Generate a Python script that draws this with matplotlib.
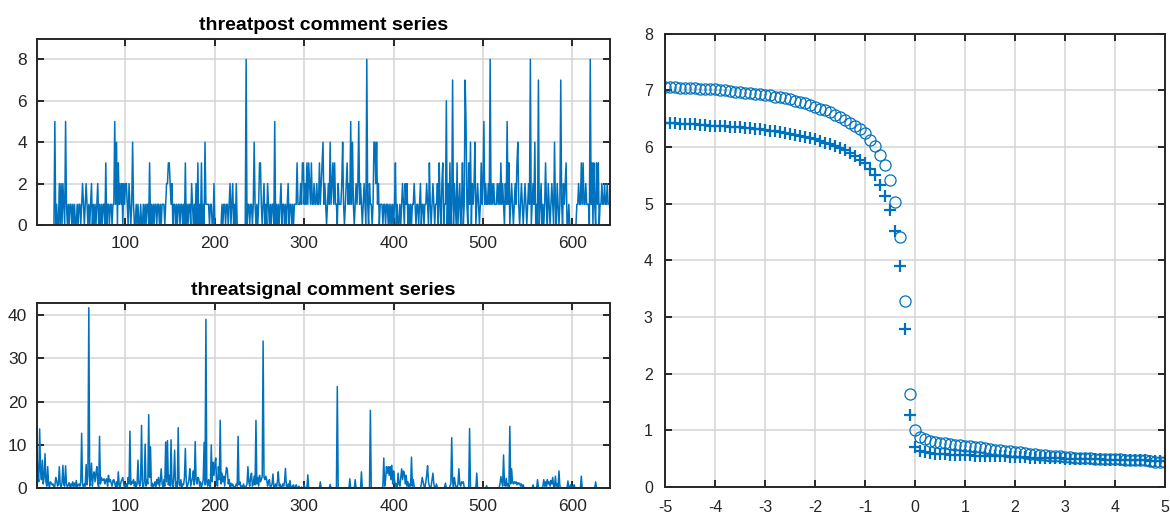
import numpy as np
import matplotlib
matplotlib.use("Agg")
import matplotlib.pyplot as plt

plt.rcParams['font.family'] = ['Liberation Sans', 'DejaVu Sans']
plt.rcParams['axes.unicode_minus'] = False

# threatpost comment counts, one digit per post (640 posts)
threatpost_digits = (
    "0000000000000000000050100202021051010110"
    "1010010110121012101012010101201010110301"
    "1011011514031212021221021014100101001001"
    "0101103010101101101011101223321201101011"
    "0110103010110210102030103010411110110020"
    "0000000101101101201201020000000000801101"
    "1014101013310120102101011050101012011010"
    "1201101011131112133121313213112112113123"
    "4121012141231311021112410123121514101212"
    "5121012108102110144241201110110110101010"
    "1301001012102120101011210110120110112103"
    "1012101120310230116020301702103012013017"
    "5103140212401210131251211218121211121213"
    "1210215130121012134101210121012180121401"
    "0701201013102101210410210171021230010000"
    "0000112113131121110813031031301121121121"
)
threatpost = [int(c) for c in threatpost_digits]

# threatsignal comment series (640 values)
threatsignal = [
    8.3, 3.0, 1.5, 13.7, 4.0, 2.0, 6.5, 1.0, 2.5, 8.0, 1.5, 0.5, 5.0, 1.0, 0.3, 1.5, 1.2, 0.8, 1.0, 0.2,
    0.5, 2.5, 1.8, 0.5, 1.0, 5.0, 0.8, 0.3, 1.2, 5.3, 0.8, 0.5, 5.2, 1.0, 0.3, 0.8, 1.3, 0.2, 1.0, 0.5,
    1.5, 0.3, 1.2, 0.5, 1.8, 0.2, 0.8, 1.0, 0.5, 1.5, 12.7, 0.8, 0.3, 1.0, 0.5, 5.5, 0.8, 3.0, 41.7, 0.5,
    2.0, 5.8, 0.5, 3.0, 3.8, 1.5, 3.5, 5.0, 1.2, 0.3, 12.0, 1.0, 2.5, 2.0, 1.8, 2.2, 1.0, 1.9, 2.2, 0.5,
    3.0, 1.5, 2.0, 1.2, 0.5, 1.8, 2.0, 1.2, 0.3, 1.5, 0.2, 3.8, 0.8, 0.3, 1.5, 2.0, 2.5, 1.0, 0.2, 0.5,
    1.0, 0.3, 2.5, 1.0, 13.2, 0.8, 1.5, 1.2, 2.0, 0.5, 1.5, 0.3, 1.0, 6.5, 1.2, 0.5, 2.0, 14.5, 1.0, 0.3,
    1.5, 10.2, 0.5, 2.0, 1.0, 17.0, 2.5, 9.6, 0.5, 1.2, 0.3, 0.8, 1.5, 0.2, 2.0, 1.0, 2.5, 0.5, 1.8, 4.5,
    1.0, 0.3, 2.0, 0.5, 10.7, 1.5, 11.0, 0.8, 3.0, 0.5, 11.2, 1.0, 0.2, 2.5, 8.8, 0.5, 1.5, 0.3, 14.0, 1.0,
    0.5, 2.0, 0.3, 1.0, 0.8, 2.5, 9.2, 1.5, 0.3, 1.0, 2.0, 4.5, 0.5, 1.5, 2.5, 4.0, 0.8, 10.8, 2.0, 1.0,
    2.5, 2.2, 0.5, 1.5, 0.3, 1.0, 2.0, 10.6, 0.8, 39.0, 1.5, 0.5, 2.0, 1.0, 0.3, 10.0, 1.5, 6.0, 3.0, 5.5,
    7.0, 1.0, 0.5, 5.0, 2.0, 15.7, 1.0, 3.5, 1.5, 2.8, 0.5, 3.0, 4.8, 4.2, 1.0, 2.0, 0.3, 1.2, 0.5, 1.0,
    0.3, 0.2, 0.5, 1.0, 0.5, 12.0, 0.8, 1.5, 0.3, 0.5, 0.2, 1.0, 0.3, 0.1, 0.5, 1.0, 5.0, 1.5, 0.5, 2.5,
    3.5, 0.5, 1.0, 2.8, 0.8, 15.7, 1.0, 2.5, 0.5, 3.0, 1.5, 2.0, 2.8, 34.0, 2.5, 2.0, 2.8, 2.0, 0.5, 1.5,
    2.0, 0.3, 0.5, 1.0, 3.3, 0.2, 0.5, 1.0, 0.3, 1.5, 3.8, 0.5, 1.0, 0.2, 0.3, 1.0, 0.5, 1.5, 4.6, 0.5,
    0.3, 1.0, 0.2, 1.8, 0.3, 0, 0.5, 0.8, 0, 0.2, 0.8, 0, 0, 0.5, 0, 0, 0.3, 0, 0, 0.8,
    0, 0, 0, 3.1, 0, 0, 0, 0, 0, 0, 0, 0, 0, 0, 0, 0, 0, 1.5, 0, 0,
    0, 0, 0, 0, 0, 0, 0, 0, 0.9, 0, 0, 0, 0, 0, 0, 0, 23.5, 0, 0, 0,
    0, 0, 0, 0, 0, 0, 0, 0, 0, 0, 2.2, 0, 0, 0, 0, 0, 2.0, 0, 0, 0,
    0, 0, 0, 3.8, 0, 0, 0, 0, 0, 0, 0, 0, 0, 18.0, 0, 0, 0, 0, 0, 0,
    0, 0, 0, 0, 0, 0, 0, 0.5, 7.0, 0.5, 2.0, 5.0, 3.5, 5.0, 3.0, 5.0, 2.0, 5.3, 1.0, 4.0,
    2.0, 0.5, 1.0, 0.3, 3.5, 1.0, 0.5, 2.5, 4.5, 2.0, 4.0, 3.5, 1.0, 3.0, 0.5, 1.5, 0.3, 1.0, 0.5, 7.2,
    0.5, 2.0, 0.3, 0, 0, 0, 0, 0, 0, 0, 1.0, 2.5, 1.5, 0.5, 0, 1.5, 3.0, 5.2, 1.5, 0.5,
    0, 0.5, 2.0, 3.5, 1.0, 0, 0.3, 1.0, 0, 0, 0, 0, 0, 0, 0, 0, 0.3, 1.2, 0, 0,
    0, 0, 0.5, 1.0, 11.7, 1.5, 0.3, 2.5, 1.0, 0.2, 0, 1.0, 4.5, 1.0, 0.5, 1.5, 1.2, 1.5, 0.2, 0,
    0, 0, 0, 0, 13.8, 0.3, 0, 0, 0, 0, 0, 0, 3.5, 0, 0, 0, 0, 0, 0, 0,
    0, 0, 0, 0.6, 0, 0, 0, 0, 0, 0, 0, 0, 0, 0, 0, 0, 0, 0, 1.0, 2.7,
    1.5, 0.5, 7.7, 1.0, 0.5, 2.3, 0.5, 1.0, 0.3, 14.3, 1.0, 4.5, 1.5, 1.0, 1.5, 1.2, 1.5, 0.8, 1.3, 1.0,
    1.2, 0.5, 1.0, 0.3, 0.8, 0, 0, 0, 0, 0, 0, 0, 0, 0, 0, 0.8, 0, 0, 0, 0,
    2.0, 0.3, 0, 0, 0, 0, 0.5, 2.0, 0.5, 1.5, 0.3, 2.0, 1.0, 1.5, 0.5, 1.8, 1.0, 2.5, 0.5, 0.3,
    2.8, 0.5, 1.0, 0.3, 4.0, 0.5, 0, 0, 0, 0, 0, 0, 0, 0, 1.7, 0.3, 0, 0.8, 0.3, 0,
    0.5, 0.8, 0, 0, 0, 0, 0, 0, 0, 2.8, 0, 0, 0, 0, 0, 0, 0, 0, 0, 0,
    0, 0, 0, 0, 0, 1.5, 0, 0, 0, 0, 0, 0, 0, 0, 0, 0, 0, 0, 0, 0,
]

# right panel: two marker series on x = -5 .. 5 step 0.1
x_right = np.round(np.linspace(-5, 5, 101), 1)
circles = [
    7.06, 7.06, 7.06, 7.05, 7.05, 7.04, 7.04, 7.03, 7.03, 7.02,
    7.02, 7.01, 7.00, 6.99, 6.98, 6.97, 6.96, 6.95, 6.94, 6.93,
    6.92, 6.91, 6.89, 6.88, 6.86, 6.84, 6.82, 6.80, 6.77, 6.74,
    6.71, 6.68, 6.65, 6.61, 6.57, 6.53, 6.48, 6.43, 6.37, 6.31,
    6.24, 6.13, 6.01, 5.86, 5.68, 5.42, 5.03, 4.42, 3.28, 1.64,
    1.00,
    0.88, 0.84, 0.81, 0.79, 0.78, 0.77, 0.76, 0.75, 0.74, 0.73,
    0.72, 0.71, 0.70, 0.68, 0.67, 0.66, 0.65, 0.64, 0.63, 0.62,
    0.61, 0.60, 0.59, 0.58, 0.57, 0.56, 0.55, 0.55, 0.54, 0.53,
    0.53, 0.52, 0.52, 0.51, 0.51, 0.50, 0.50, 0.50, 0.49, 0.49,
    0.49, 0.48, 0.48, 0.48, 0.47, 0.47, 0.46, 0.45, 0.44, 0.44,
]
pluses = [
    6.42, 6.42, 6.42, 6.41, 6.41, 6.40, 6.40, 6.39, 6.39, 6.38,
    6.38, 6.37, 6.37, 6.36, 6.35, 6.35, 6.34, 6.33, 6.32, 6.31,
    6.30, 6.29, 6.28, 6.26, 6.25, 6.23, 6.22, 6.20, 6.18, 6.16,
    6.14, 6.11, 6.08, 6.05, 6.02, 5.98, 5.94, 5.89, 5.84, 5.78,
    5.71, 5.62, 5.50, 5.33, 5.14, 4.88, 4.52, 3.90, 2.78, 1.27,
    0.71,
    0.63, 0.61, 0.60, 0.59, 0.58, 0.58, 0.57, 0.57, 0.56, 0.56,
    0.56, 0.55, 0.55, 0.55, 0.55, 0.54, 0.54, 0.54, 0.53, 0.53,
    0.53, 0.53, 0.52, 0.52, 0.52, 0.52, 0.51, 0.51, 0.51, 0.50,
    0.50, 0.50, 0.50, 0.49, 0.49, 0.49, 0.49, 0.48, 0.48, 0.48,
    0.48, 0.48, 0.47, 0.47, 0.47, 0.47, 0.46, 0.46, 0.46, 0.46,
]

BLUE = '#0072BD'
DARK = '#262626'
GRID = '#D4D4D4'


def matlab_style(ax, fs, xpad, ypad):
    for s in ax.spines.values():
        s.set_color(DARK)
        s.set_linewidth(1.4)
    ax.tick_params(direction='in', top=True, right=True, length=5, width=1.4,
                   colors=DARK, labelsize=fs)
    ax.tick_params(axis='x', pad=xpad)
    ax.tick_params(axis='y', pad=ypad)
    ax.grid(True, color=GRID, linewidth=1.1)
    ax.set_axisbelow(True)


fig = plt.figure(figsize=(11.7, 5.17), dpi=100)

# top-left
ax1 = fig.add_axes([0.0316, 0.5648, 0.4897, 0.3604])
idx = np.arange(1, len(threatpost) + 1)
ax1.plot(idx, threatpost, color=BLUE, linewidth=1.1)
ax1.set_xlim(1, 642)
ax1.set_ylim(0, 9)
ax1.set_xticks([100, 200, 300, 400, 500, 600])
ax1.set_yticks([0, 2, 4, 6, 8])
ax1.set_title('threatpost comment series', fontsize=14, fontweight='bold', pad=6)
matlab_style(ax1, 12.5, 8, 7)

# bottom-left
ax2 = fig.add_axes([0.0316, 0.0555, 0.4897, 0.3578])
idx2 = np.arange(1, len(threatsignal) + 1)
ax2.plot(idx2, threatsignal, color=BLUE, linewidth=1.1)
ax2.set_xlim(1, 642)
ax2.set_ylim(0, 42.7)
ax2.set_xticks([100, 200, 300, 400, 500, 600])
ax2.set_yticks([0, 10, 20, 30, 40])
ax2.set_title('threatsignal comment series', fontsize=14, fontweight='bold', pad=6)
matlab_style(ax2, 12.5, 8, 7)

# right
ax3 = fig.add_axes([0.5686, 0.058, 0.4271, 0.8768])
ax3.plot(x_right, circles, linestyle='none', marker='o', markersize=8,
         markerfacecolor='none', markeredgecolor=BLUE, markeredgewidth=0.9)
ax3.plot(x_right, pluses, linestyle='none', marker='+', markersize=8,
         color=BLUE, markeredgewidth=1.6)
ax3.set_xlim(-5, 5)
ax3.set_ylim(0, 8)
ax3.set_xticks(range(-5, 6))
ax3.set_yticks(range(0, 9))
matlab_style(ax3, 11.5, 9, 9)

fig.savefig('out.png', dpi=100)
